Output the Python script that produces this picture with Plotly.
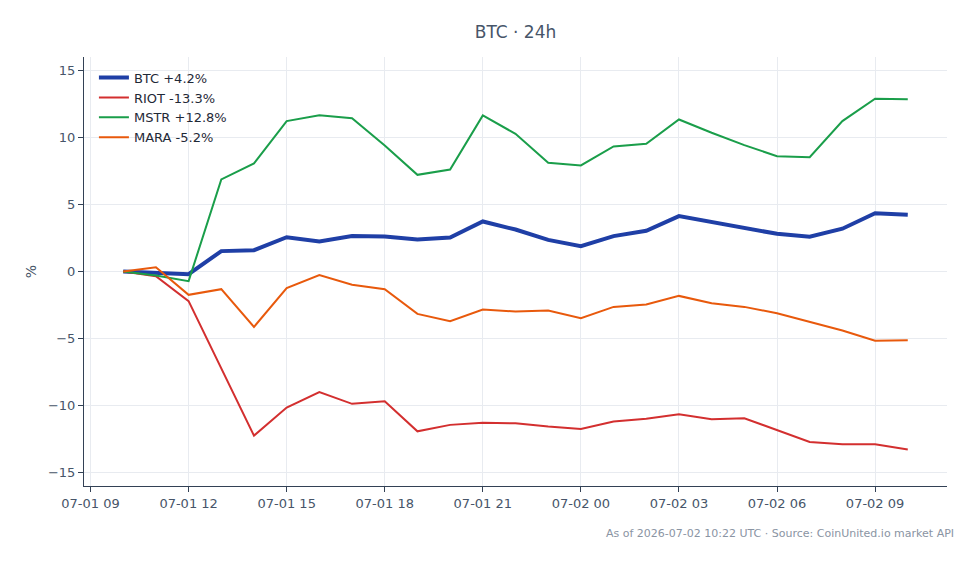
import plotly.graph_objects as go
import pandas as pd

times = pd.date_range("2026-07-01 10:00", "2026-07-02 10:00", freq="h")

btc = [0.0, -0.07, -0.2, 1.52, 1.59, 2.56, 2.24, 2.64, 2.61, 2.39, 2.54, 3.73, 3.13,
       2.36, 1.89, 2.64, 3.04, 4.13, 3.68, 3.26, 2.81, 2.59, 3.19, 4.35, 4.24]
riot = [0.0, -0.35, -2.21, -7.2, -12.24, -10.15, -9.0, -9.87, -9.68, -11.92, -11.44,
        -11.29, -11.32, -11.57, -11.74, -11.19, -10.99, -10.65, -11.02, -10.95,
        -11.82, -12.71, -12.89, -12.89, -13.28]
mstr = [0.0, -0.3, -0.72, 6.87, 8.06, 11.22, 11.66, 11.44, 9.4, 7.21, 7.61, 11.64,
        10.27, 8.11, 7.91, 9.33, 9.53, 11.34, 10.35, 9.43, 8.6, 8.53, 11.22, 12.89, 12.84]
mara = [0.0, 0.32, -1.74, -1.32, -4.13, -1.24, -0.27, -0.99, -1.32, -3.16, -3.71,
        -2.84, -2.99, -2.91, -3.48, -2.64, -2.46, -1.82, -2.36, -2.64, -3.11, -3.76,
        -4.4, -5.17, -5.13]

series = [
    ("BTC +4.2%", btc, "#1f3fa6", 4),
    ("RIOT -13.3%", riot, "#d32f2f", 2),
    ("MSTR +12.8%", mstr, "#1a9e4a", 2),
    ("MARA -5.2%", mara, "#e8590c", 2),
]

y_ticks = [-15, -10, -5, 0, 5, 10, 15]

fig = go.Figure()
for name, vals, color, width in series:
    fig.add_trace(go.Scatter(x=times, y=vals, mode="lines", name=name,
                             line=dict(color=color, width=width)))

fig.add_hline(y=0, line=dict(color="#94a3b8", width=1, dash="dash"), layer="below")

pad = pd.Timedelta(minutes=72)
font = "DejaVu Sans"
fig.update_layout(
    width=979, height=564,
    margin=dict(l=84, r=32, t=57, b=78),
    paper_bgcolor="white", plot_bgcolor="white",
    font=dict(family=font, size=13, color="#475569"),
    title=dict(text="BTC · 24h", x=0.5, xref="paper", xanchor="center",
               y=0.943, yanchor="middle",
               font=dict(family=font, size=17, color="#475569")),
    legend=dict(x=0.0115, y=0.987, xanchor="left", yanchor="top",
                bgcolor="rgba(255,255,255,0)", font=dict(size=13, color="#1f2937")),
    showlegend=True,
    hovermode=False,
)
fig.update_xaxes(
    range=[times[0] - pad, times[-1] + pad],
    tickformat="%m-%d %H", dtick=3 * 3600 * 1000,
    tick0="2026-07-01 09:00",
    showline=True, linecolor="#334155", linewidth=1,
    ticks="outside", ticklen=5, tickcolor="#334155",
    showgrid=True, gridcolor="#e8ebf0", zeroline=False,
    tickfont=dict(size=13, color="#475569"),
)
fig.update_yaxes(
    range=[-16, 16], tickvals=y_ticks,
    title=dict(text="%", font=dict(size=14, color="#475569"), standoff=8),
    showline=True, linecolor="#334155", linewidth=1,
    ticks="outside", ticklen=5, tickcolor="#334155",
    showgrid=True, gridcolor="#e8ebf0", zeroline=False,
    tickfont=dict(size=13, color="#475569"),
)
fig.add_annotation(text="As of 2026-07-02 10:22 UTC · Source: CoinUnited.io market API",
                   xref="paper", yref="paper", x=1.0105, y=-0.11,
                   xanchor="right", yanchor="middle", showarrow=False,
                   font=dict(size=11, color="#8a94a3"))

fig.write_html("out.html")
